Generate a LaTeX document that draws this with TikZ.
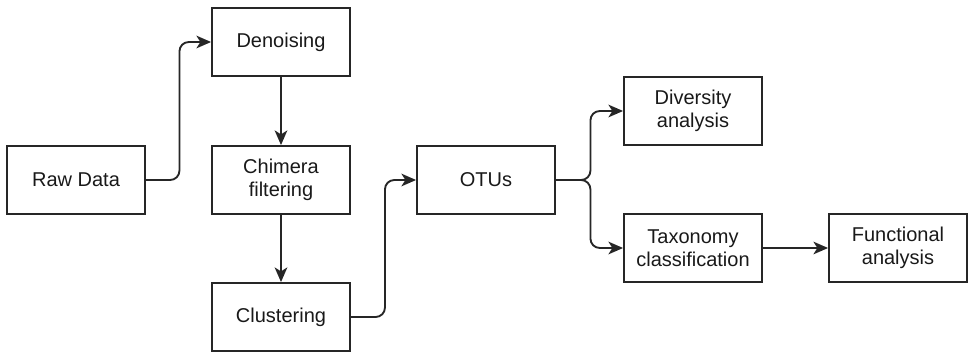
\documentclass[tikz,border=0pt]{standalone}
\usepackage{fontspec}
\setmainfont{Liberation Sans}
\usetikzlibrary{arrows.meta}

\begin{document}
\begin{tikzpicture}[x=0.75pt,y=0.75pt,yscale=-1,xscale=1,
  box/.style={draw=black!85, line width=1.4pt, minimum width=103.5pt, minimum height=51pt,
    align=center, inner sep=2pt, font=\fontsize{15}{17.5}\selectfont, text=black!90},
  flow/.style={draw=black!85, line width=1.4pt, rounded corners=7pt,
    -{Stealth[length=11pt,width=9.5pt,inset=3pt]}}]
%set diagram left start at 0, and has height of 353
\useasboundingbox (0,0) rectangle (971,353);

% Boxes
\node [box] (raw) at (76,180) {Raw Data};
\node [box] (den) at (281,42) {Denoising};
\node [box] (chi) at (281,180) {Chimera\\filtering};
\node [box] (clu) at (281,317) {Clustering};
\node [box] (otu) at (486,180) {OTUs};
\node [box] (div) at (693,111) {Diversity\\analysis};
\node [box] (tax) at (693,248) {Taxonomy\\classification};
\node [box] (fun) at (898,248) {Functional\\analysis};

% Connectors
\draw [flow] (raw.east) -- ++(33.5,0) |- (den.west);
\draw [flow] (den.south) -- (chi.north);
\draw [flow] (chi.south) -- (clu.north);
\draw [flow] (clu.east) -- ++(34,0) |- (otu.west);
\draw [flow] (otu.east) -- ++(34.5,0) |- (div.west);
\draw [flow] (otu.east) -- ++(34.5,0) |- (tax.west);
\draw [flow] (tax.east) -- (fun.west);

\end{tikzpicture}
\end{document}
